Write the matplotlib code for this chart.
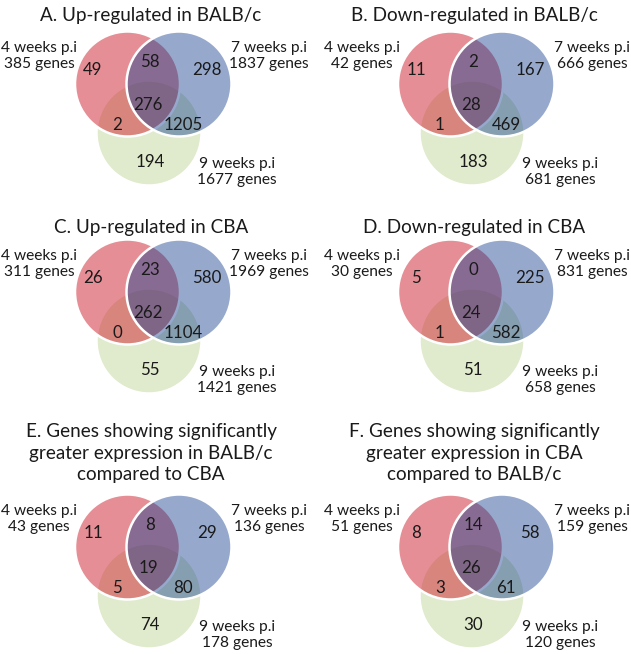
import matplotlib.pyplot as plt
from matplotlib.patches import Circle

plt.rcParams['font.family'] = ['Lato', 'DejaVu Sans']

titles = [
    "A. Up-regulated in BALB/c",
    "B. Down-regulated in BALB/c",
    "C. Up-regulated in CBA",
    "D. Down-regulated in CBA",
    "E. Genes showing significantly\ngreater expression in BALB/c\ncompared to CBA",
    "F. Genes showing significantly\ngreater expression in CBA\ncompared to BALB/c",
]
week_labels = ["4 weeks p.i", "7 weeks p.i", "9 weeks p.i"]

# genes per time point (4, 7, 9 weeks)
totals_A = [385, 1837, 1677]
totals_B = [42, 666, 681]
totals_C = [311, 1969, 1421]
totals_D = [30, 831, 658]
totals_E = [43, 136, 178]
totals_F = [51, 159, 120]

# region counts: 4 only, 4&7, 7 only, 4&7&9, 4&9, 7&9, 9 only
regions_A = [49, 58, 298, 276, 2, 1205, 194]
regions_B = [11, 2, 167, 28, 1, 469, 183]
regions_C = [26, 23, 580, 262, 0, 1104, 55]
regions_D = [5, 0, 225, 24, 1, 582, 51]
regions_E = [11, 8, 29, 19, 5, 80, 74]
regions_F = [8, 14, 58, 26, 3, 61, 30]

all_totals = [totals_A, totals_B, totals_C, totals_D, totals_E, totals_F]
all_regions = [regions_A, regions_B, regions_C, regions_D, regions_E, regions_F]

# layout (pixels)
col_x = [0, 323]
row_y = [0, 208, 463]
title_y = [15, 228, 453]
R = 52.5
circ_centres = [(127.5, 84), (179, 84), (149, 133)]
circ_colors = [(210/255, 50/255, 62/255, 0.55),
               (22/255, 66/255, 144/255, 0.45),
               (155/255, 187/255, 89/255, 0.30)]
region_pos = [(93, 70), (150, 62), (207, 70), (148, 105),
              (117, 125), (183, 125), (150, 162)]
label_pos = [(39, 56), (269, 56), (237, 172)]
txt = '#1a1a1a'

fig = plt.figure(figsize=(6.31, 6.54), dpi=100)
ax = fig.add_axes([0, 0, 1, 1])
ax.set_xlim(0, 631)
ax.set_ylim(654, 0)
ax.axis('off')

for i in range(6):
    ox = col_x[i % 2]
    oy = row_y[i // 2]
    ax.text(ox + 151, title_y[i // 2], titles[i], ha='center', va='center',
            fontsize=13.6, color=txt, linespacing=1.32)
    # green first, then red, then blue on top
    for k in [2, 0, 1]:
        cx, cy = circ_centres[k]
        ax.add_patch(Circle((ox + cx, oy + cy), R, facecolor=circ_colors[k],
                            edgecolor='white', linewidth=1.8))
    for (px, py), n in zip(region_pos, all_regions[i]):
        ax.text(ox + px, oy + py, str(n), ha='center', va='center',
                fontsize=12.2, color=txt)
    for (px, py), lab, tot in zip(label_pos, week_labels, all_totals[i]):
        ax.text(ox + px, oy + py, f"{lab}\n{tot} genes", ha='center',
                va='center', fontsize=11.2, color=txt, linespacing=1.22)

fig.savefig('out.png', dpi=100)
